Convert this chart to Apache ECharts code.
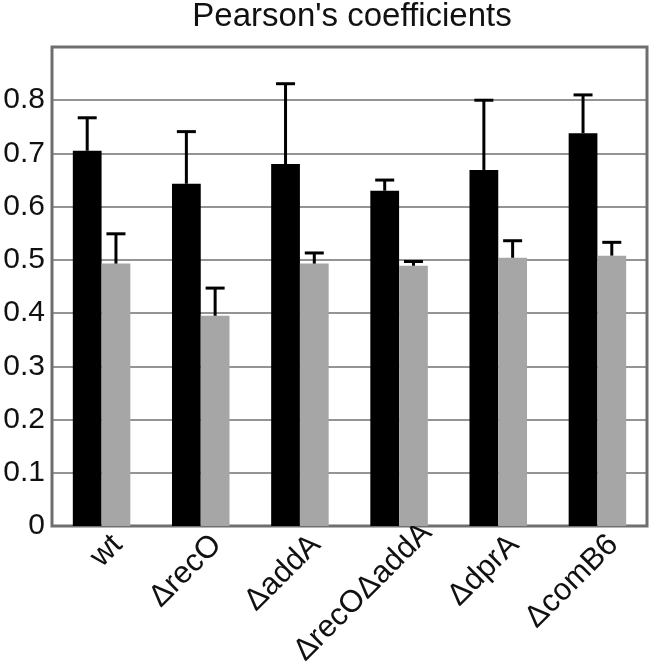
<!DOCTYPE html>
<html>
<head>
<meta charset="utf-8">
<script src="https://cdn.jsdelivr.net/npm/echarts@6/dist/echarts.min.js"></script>
<style>
  html, body { margin: 0; padding: 0; background: #fff; }
  #chart { width: 650px; height: 671px; }
</style>
</head>
<body>
<div id="chart"></div>
<script>
// strains on the x axis
const strains = ['wt', 'ΔrecO', 'ΔaddA', 'ΔrecOΔaddA', 'ΔdprA', 'ΔcomB6'];
// black bars and their upper error
const blackMean = [0.705, 0.643, 0.680, 0.630, 0.669, 0.738];
const blackErr = [0.062, 0.098, 0.151, 0.020, 0.131, 0.072];
// gray bars and their upper error
const grayMean = [0.493, 0.395, 0.493, 0.489, 0.504, 0.508];
const grayErr = [0.056, 0.052, 0.020, 0.008, 0.032, 0.025];
const yTicks = [0, 0.1, 0.2, 0.3, 0.4, 0.5, 0.6, 0.7, 0.8];

const BAR_RATIO = 0.29;
const FONT = 'Liberation Sans';

function errorBar(side) {
  // side: -1 black (left), +1 gray (right)
  return function (params, api) {
    const idx = api.value(0);
    const base = api.coord([idx, api.value(1)]);
    const top = api.coord([idx, api.value(1) + api.value(2)]);
    const bw = api.size([1, 0])[0] * BAR_RATIO;
    const x = base[0] + side * bw / 2;
    const style = { stroke: '#000', lineWidth: 3 };
    return {
      type: 'group',
      children: [
        { type: 'line', shape: { x1: x, y1: base[1], x2: x, y2: top[1] }, style: style },
        { type: 'line', shape: { x1: x - 9.5, y1: top[1], x2: x + 9.5, y2: top[1] }, style: style }
      ]
    };
  };
}

// slanted strain names, anchored under each category
function strainLabel(params, api) {
  const idx = api.value(0);
  const p = api.coord([idx, 0]);
  // the long double-mutant name sits a little higher, as in the figure
  const lift = strains[idx].length > 8 ? 12 : 0;
  return {
    type: 'text',
    x: p[0] + 16 + lift,
    y: p[1] + 14 - lift,
    rotation: Math.PI / 4,
    style: {
      text: strains[idx],
      align: 'right',
      verticalAlign: 'middle',
      font: '31px "' + FONT + '"',
      fill: '#111'
    }
  };
}

const chart = echarts.init(document.getElementById('chart'));
chart.setOption({
  animation: false,
  title: {
    text: "Pearson's coefficients",
    left: 347,
    textAlign: 'center',
    top: -5,
    textStyle: { fontFamily: FONT, fontSize: 33, fontWeight: 'normal', color: '#111' }
  },
  grid: {
    left: 52, right: 3, top: 47, bottom: 145,
    show: true, borderColor: '#6e6e6e', borderWidth: 3, backgroundColor: '#fff'
  },
  xAxis: {
    type: 'category',
    data: strains,
    axisLine: { show: false },
    axisTick: { show: false },
    axisLabel: { show: false }
  },
  yAxis: {
    type: 'value',
    min: 0, max: 0.9, interval: 0.1,
    axisLine: { show: false },
    axisTick: { show: false },
    splitLine: { lineStyle: { color: '#707070', width: 1.5 } },
    axisLabel: {
      margin: 7,
      fontFamily: FONT, fontSize: 30, color: '#111',
      formatter: function (v) {
        const r = Math.round(v * 10) / 10;
        return yTicks.indexOf(r) >= 0 ? String(r) : '';
      }
    }
  },
  series: [
    {
      type: 'bar', data: blackMean, barWidth: (BAR_RATIO * 100) + '%', barGap: '0%',
      itemStyle: { color: '#000' }
    },
    {
      type: 'bar', data: grayMean, barWidth: (BAR_RATIO * 100) + '%', barGap: '0%',
      itemStyle: { color: '#a6a6a6' }
    },
    {
      type: 'custom', renderItem: errorBar(-1), z: 5,
      data: blackMean.map((v, i) => [i, v, blackErr[i]])
    },
    {
      type: 'custom', renderItem: errorBar(1), z: 5,
      data: grayMean.map((v, i) => [i, v, grayErr[i]])
    },
    {
      type: 'custom', renderItem: strainLabel, clip: false, silent: true,
      data: strains.map((s, i) => [i])
    }
  ]
});
</script>
</body>
</html>
